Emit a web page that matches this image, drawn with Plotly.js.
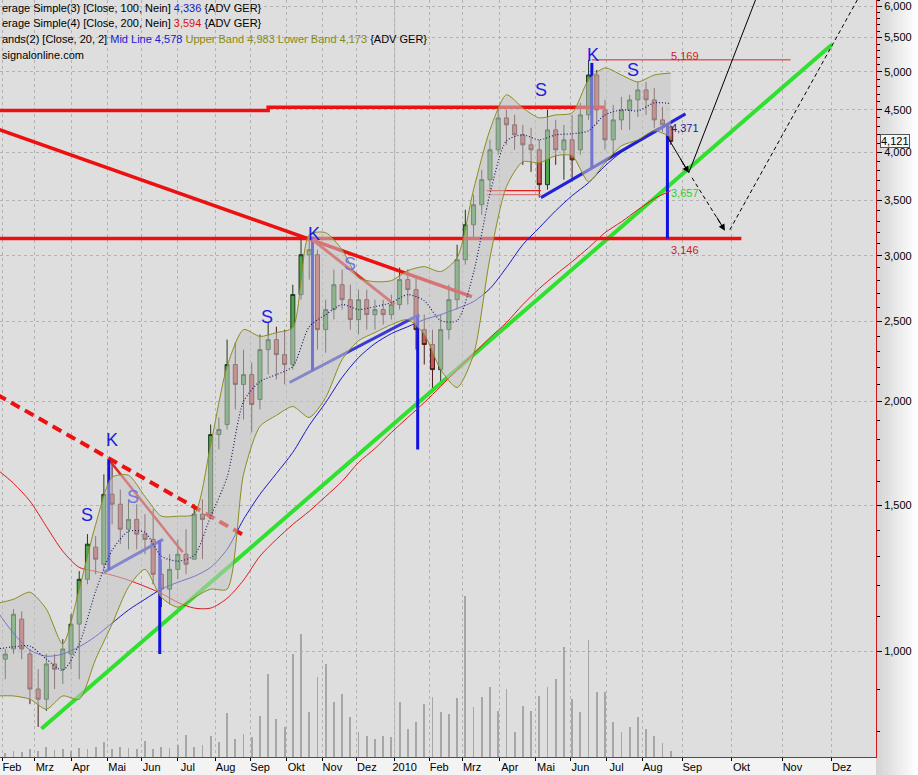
<!DOCTYPE html>
<html><head><meta charset="utf-8">
<script src="https://cdn.plot.ly/plotly-3.0.1.min.js"></script>
<style>html,body{margin:0;padding:0;background:#fff;} #chart{width:918px;height:775px;}</style>
</head><body><div id="chart"></div>
<script>
// ---------- DATA ----------
const weekDates = ['2009-01-28','2009-02-04','2009-02-11','2009-02-18','2009-02-25','2009-03-04','2009-03-11','2009-03-18','2009-03-25','2009-04-01','2009-04-08','2009-04-15','2009-04-22','2009-04-29','2009-05-06','2009-05-13','2009-05-20','2009-05-27','2009-06-03','2009-06-10','2009-06-17','2009-06-24','2009-07-01','2009-07-08','2009-07-15','2009-07-22','2009-07-29','2009-08-05','2009-08-12','2009-08-19','2009-08-26','2009-09-02','2009-09-09','2009-09-16','2009-09-23','2009-09-30','2009-10-07','2009-10-14','2009-10-21','2009-10-28','2009-11-04','2009-11-11','2009-11-18','2009-11-25','2009-12-02','2009-12-09','2009-12-16','2009-12-23','2009-12-30','2010-01-06','2010-01-13','2010-01-20','2010-01-27','2010-02-03','2010-02-10','2010-02-17','2010-02-24','2010-03-03','2010-03-10','2010-03-17','2010-03-24','2010-03-31','2010-04-07','2010-04-14','2010-04-21','2010-04-28','2010-05-05','2010-05-12','2010-05-19','2010-05-26','2010-06-02','2010-06-09','2010-06-16','2010-06-23','2010-06-30','2010-07-07','2010-07-14','2010-07-21','2010-07-28','2010-08-04','2010-08-11','2010-08-18','2010-08-25'];
const openV  = [0.965,0.978,1.006,1.093,0.992,0.900,0.875,0.965,0.951,0.992,1.078,1.221,1.335,1.273,1.546,1.504,1.403,1.442,1.384,1.364,1.238,1.188,1.255,1.309,1.291,1.463,1.463,1.825,1.877,2.217,2.098,2.156,2.012,2.311,2.376,2.279,2.217,2.693,3.008,3.008,2.443,2.583,2.768,2.655,2.512,2.655,2.547,2.583,2.547,2.619,2.807,2.730,2.443,2.344,2.186,2.443,2.655,2.967,3.269,3.456,3.705,4.026,4.399,4.315,4.197,4.082,4.026,3.654,4.255,4.026,4.139,4.026,4.436,4.956,4.498,4.139,4.375,4.498,4.625,4.755,4.625,4.375,4.291];
const highV  = [0.992,1.006,1.124,1.117,1.006,0.951,0.992,0.992,1.034,1.108,1.249,1.384,1.377,1.634,1.703,1.567,1.525,1.504,1.463,1.483,1.291,1.309,1.364,1.403,1.504,1.525,1.877,1.914,2.376,2.356,2.311,2.229,2.410,2.491,2.463,2.443,2.768,3.136,3.162,3.050,2.655,2.886,2.886,2.768,2.730,2.730,2.655,2.655,2.693,2.902,2.886,2.822,2.547,2.443,2.547,2.768,3.093,3.408,3.554,3.808,4.139,4.523,4.498,4.436,4.315,4.279,4.139,4.498,4.375,4.315,4.436,4.587,5.169,5.025,4.625,4.561,4.664,4.690,4.862,4.862,4.782,4.536,4.315];
const lowV   = [0.925,0.925,0.992,0.978,0.863,0.810,0.847,0.900,0.913,0.951,0.925,1.204,1.238,1.255,1.422,1.346,1.327,1.327,1.309,1.204,1.130,1.139,1.221,1.238,1.291,1.291,1.442,1.751,1.851,1.957,1.903,1.836,1.957,2.156,2.127,2.098,2.186,2.655,2.807,2.311,2.291,2.512,2.583,2.443,2.410,2.443,2.443,2.477,2.512,2.583,2.619,2.311,2.217,2.052,2.098,2.376,2.583,2.926,3.136,3.361,3.604,3.971,4.082,4.026,3.861,3.787,3.525,3.604,3.861,3.705,3.685,3.971,4.375,4.315,4.026,3.949,4.255,4.255,4.411,4.436,4.279,4.232,4.082];
const closeV = [0.978,0.992,1.108,1.006,0.900,0.875,0.965,0.951,1.006,1.078,1.221,1.346,1.291,1.546,1.504,1.403,1.442,1.384,1.364,1.238,1.188,1.255,1.309,1.273,1.463,1.442,1.825,1.851,2.217,2.098,2.156,1.984,2.311,2.376,2.279,2.217,2.693,3.008,3.050,2.443,2.583,2.768,2.655,2.512,2.655,2.547,2.583,2.547,2.619,2.807,2.730,2.443,2.344,2.186,2.443,2.655,2.967,3.269,3.456,3.705,4.026,4.399,4.315,4.197,4.082,4.026,3.654,4.255,4.026,4.139,3.915,4.436,4.956,4.498,4.139,4.375,4.498,4.625,4.755,4.625,4.375,4.315,4.121];
const volume = [5,4,6,5,8,6,10,7,8,6,9,8,10,15,8,10,9,8,16,8,10,9,12,22,10,12,21,15,44,18,23,20,41,83,38,30,103,123,45,80,93,55,63,40,25,21,18,21,20,55,28,35,53,60,45,43,59,161,50,60,70,46,68,25,51,46,61,70,78,110,58,45,117,65,65,35,25,30,40,28,21,14,6];

const ovDates = ['2009-01-28','2009-02-11','2009-02-25','2009-03-11','2009-03-25','2009-04-08','2009-04-22','2009-05-06','2009-05-20','2009-06-03','2009-06-17','2009-07-01','2009-07-15','2009-07-29','2009-08-12','2009-08-26','2009-09-09','2009-09-23','2009-10-07','2009-10-21','2009-11-04','2009-11-18','2009-12-02','2009-12-16','2009-12-30','2010-01-13','2010-01-27','2010-02-10','2010-02-24','2010-03-10','2010-03-24','2010-04-07','2010-04-21','2010-05-05','2010-05-19','2010-06-02','2010-06-16','2010-06-30','2010-07-14','2010-07-28','2010-08-11','2010-08-25'];
const bbUpper = [1.142,1.155,1.178,1.124,1.020,1.188,1.422,1.621,1.630,1.537,1.455,1.455,1.463,1.775,2.205,2.443,2.397,2.423,2.457,3.180,3.198,3.050,2.822,2.791,2.799,2.878,2.910,2.870,2.983,3.604,4.255,4.690,4.523,4.399,4.436,4.461,4.889,5.054,4.956,4.862,4.956,4.983];
const bbLower = [0.883,0.883,0.875,0.851,0.883,0.875,0.978,1.078,1.195,1.255,1.161,1.130,1.161,1.188,1.188,1.634,1.867,1.925,1.973,1.914,2.023,2.248,2.369,2.423,2.477,2.512,2.410,2.186,2.080,2.279,2.983,3.634,3.894,3.883,3.960,3.960,3.685,3.883,4.071,4.139,4.244,4.173];
const bbMid   = [1.006,1.012,1.014,0.978,0.948,1.020,1.181,1.323,1.395,1.391,1.302,1.284,1.305,1.454,1.621,2.001,2.115,2.156,2.205,2.463,2.547,2.619,2.583,2.604,2.633,2.693,2.648,2.505,2.505,2.862,3.564,4.127,4.197,4.139,4.197,4.209,4.244,4.436,4.498,4.486,4.587,4.578];
const ma100   = [1.118,1.051,1.003,0.986,0.992,1.012,1.042,1.081,1.121,1.155,1.188,1.211,1.231,1.262,1.327,1.442,1.546,1.638,1.737,1.872,1.995,2.139,2.260,2.350,2.416,2.463,2.512,2.547,2.590,2.641,2.738,2.902,3.093,3.242,3.399,3.544,3.674,3.850,4.000,4.127,4.255,4.336];
const ma200   = [1.657,1.594,1.517,1.414,1.320,1.262,1.248,1.235,1.218,1.197,1.174,1.145,1.127,1.127,1.158,1.218,1.302,1.364,1.422,1.475,1.537,1.603,1.689,1.756,1.836,1.914,1.995,2.086,2.186,2.285,2.389,2.491,2.619,2.738,2.846,2.951,3.067,3.198,3.296,3.408,3.514,3.594];

const monthDates  = ['2009-02-01','2009-03-01','2009-04-01','2009-05-01','2009-06-01','2009-07-01','2009-08-01','2009-09-01','2009-10-01','2009-11-01','2009-12-01','2010-01-01','2010-02-01','2010-03-01','2010-04-01','2010-05-01','2010-06-01','2010-07-01','2010-08-01','2010-09-01','2010-10-01','2010-11-01','2010-12-01'];
const monthLabels = ['Feb','Mrz','Apr','Mai','Jun','Jul','Aug','Sep','Okt','Nov','Dez','2010','Feb','Mrz','Apr','Mai','Jun','Jul','Aug','Sep','Okt','Nov','Dez'];
const priceTicks  = [1,1.5,2,2.5,3,3.5,4,4.5,5,5.5,6];
const priceLabels = ['1,000','1,500','2,000','2,500','3,000','3,500','4,000','4,500','5,000','5,500','6,000'];

// drawn analysis lines (date, value)
const resistHigh = {d:['2009-01-28','2009-09-16','2009-09-16','2010-06-30'], v:[4.49,4.49,4.53,4.53]};
const downTrend  = {d:['2009-01-28','2010-03-09'], v:[4.267,2.678]};
const support    = {d:['2009-01-28','2010-10-07'], v:[3.146,3.146]};
const peakLine   = {d:['2010-06-18','2010-11-06'], v:[5.169,5.169]};
const dashed2009 = {d:['2009-01-28','2009-08-26'], v:[2.040,1.380]};
const ks2009     = {d:['2009-05-04','2009-07-06'], v:[1.703,1.316]};
const neck2009   = {d:['2009-04-29','2009-06-18'], v:[1.245,1.364]};
const kv2009     = {d:['2009-05-04','2009-05-04'], v:[1.703,1.252]};
const tv2009     = {d:['2009-06-16','2009-06-16'], v:[1.360,0.992]};
const neckB      = {d:['2009-10-05','2010-01-22'], v:[2.109,2.547]};
const kvB        = {d:['2009-10-23','2009-10-23'], v:[3.162,2.180]};
const tvB        = {d:['2010-01-21','2010-01-21'], v:[2.540,1.751]};
const ksB        = {d:['2009-10-23','2010-01-01'], v:[3.136,2.619]};
const neckC      = {d:['2010-05-06','2010-09-03'], v:[3.525,4.449]};
const kvC        = {d:['2010-06-18','2010-06-18'], v:[5.125,3.832]};
const tvC        = {d:['2010-08-23','2010-08-23'], v:[4.32,3.146]};
const gapTop     = {d:['2010-03-22','2010-05-06'], v:[3.594,3.594]};
const gapBottom  = {d:['2010-03-22','2010-05-06'], v:[3.554,3.554]};
const trendGreen = {d:['2009-03-06','2010-12-01'], v:[0.806,5.39]};
const arrow1     = {d:['2010-08-23','2010-09-05'], v:[4.173,3.777]};
const arrowTop   = {d:['2010-10-18','2010-09-05'], v:[6.28,3.777]};
const arrow2     = {d:['2010-09-07','2010-09-27'], v:[3.725,3.215]};
const arrow3     = {d:['2010-09-30','2010-12-20'], v:[3.224,6.28]};

const patternLabels = [
  {t:'K', d:'2009-05-06', v:1.800, c:'#1c1ce0'},
  {t:'S', d:'2009-04-15', v:1.459, c:'#1c1ce0'},
  {t:'S', d:'2009-05-25', v:1.533, c:'#7474dc'},
  {t:'S', d:'2009-09-15', v:2.533, c:'#1c1ce0'},
  {t:'K', d:'2009-10-26', v:3.189, c:'#1c1ce0'},
  {t:'S', d:'2009-11-25', v:2.934, c:'#7474dc'},
  {t:'S', d:'2010-05-06', v:4.755, c:'#1c1ce0'},
  {t:'K', d:'2010-06-21', v:5.236, c:'#1c1ce0'},
  {t:'S', d:'2010-07-23', v:5.025, c:'#1c1ce0'}
];
const valueLabels = [
  {t:'5,169', d:'2010-08-24', v:5.222, c:'#d01a1a'},
  {t:'4,371', d:'2010-08-24', v:4.279, c:'#1a1aa0'},
  {t:'3,657', d:'2010-08-24', v:3.574, c:'#2ecc2e'},
  {t:'3,146', d:'2010-08-24', v:3.050, c:'#d01a1a'}
];
const lastPrice = 4.121;

// ---------- AXIS MAPPING (trading days, then calendar days after last bar) ----------
const DAY = 864e5, BASE = Date.UTC(2009,1,2), CUT = Date.UTC(2010,7,27);
function wd(t){const d=Math.round((t-BASE)/DAY);const w=Math.floor(d/7);const r=d-7*w;return w*5+Math.min(r,5);}
function xIdx(s){const p=s.split('-').map(Number);const t=Date.UTC(p[0],p[1]-1,p[2]);return t<=CUT?wd(t):wd(CUT)+Math.round((t-CUT)/DAY);}
const X = a => a.map(xIdx);
const L = Math.log10;

function seg(o,color,width,dash){
  return {type:'scatter',mode:'lines',x:X(o.d),y:o.v,line:{color:color,width:width,dash:dash||'solid'},hoverinfo:'skip'};
}

const traces = [
  {type:'bar',x:X(weekDates),y:volume,yaxis:'y2',width:1.1,marker:{color:'#a6a6a6',line:{width:0}},hoverinfo:'skip'},
  {type:'candlestick',x:X(weekDates),open:openV,high:highV,low:lowV,close:closeV,whiskerwidth:0,
   increasing:{line:{color:'#1f3a1f',width:1},fillcolor:'#4ea64e'},
   decreasing:{line:{color:'#4a1c1c',width:1},fillcolor:'#c85656'},hoverinfo:'skip'},
  seg(trendGreen,'#2fe02f',4),
  seg(resistHigh,'#ee1010',3.5),
  seg(downTrend,'#ee1010',3.5),
  seg(support,'#ee1010',3.5),
  seg(peakLine,'#e02020',1),
  seg(dashed2009,'#ee1010',4,'10px,6px'),
  seg(ks2009,'#e02828',2.5),
  seg(neck2009,'#3a3ad0',3),
  seg(kv2009,'#1010e0',3),
  seg(tv2009,'#1010e0',3),
  seg(neckB,'#3a3ad0',3),
  seg(kvB,'#1010e0',3),
  seg(tvB,'#1010e0',3),
  seg(ksB,'#e03030',3),
  seg(neckC,'#2222d8',3),
  seg(kvC,'#1010e0',3),
  seg(tvC,'#1010e0',3),
  seg(gapTop,'#e02020',1.2),
  seg(gapBottom,'#e07070',1.2),
  seg(arrow1,'#000',1),
  seg(arrowTop,'#000',1),
  seg(arrow2,'#000',1,'4px,3px'),
  seg(arrow3,'#000',1,'4px,3px'),
  {type:'scatter',mode:'lines',x:X(ovDates),y:ma200,line:{color:'#e01818',width:1,shape:'spline',smoothing:0.8},hoverinfo:'skip'},
  {type:'scatter',mode:'lines',x:X(ovDates),y:ma100,line:{color:'#1818c8',width:1,shape:'spline',smoothing:0.8},hoverinfo:'skip'},
  {type:'scatter',mode:'lines',x:X(ovDates),y:bbLower,line:{color:'#8c8c1e',width:1,shape:'spline',smoothing:0.7},hoverinfo:'skip'},
  {type:'scatter',mode:'lines',x:X(ovDates),y:bbUpper,fill:'tonexty',fillcolor:'rgba(196,196,196,0.55)',line:{color:'#8c8c1e',width:1,shape:'spline',smoothing:0.7},hoverinfo:'skip'},
  {type:'scatter',mode:'lines',x:X(ovDates),y:bbMid,line:{color:'#1c1c70',width:1.2,dash:'1px,2px',shape:'spline',smoothing:0.7},hoverinfo:'skip'}
];

// minor ticks every 0.1
const minorVals = [];
for(let i=8;i<=61;i++){ if(i%5!==0) minorVals.push(i/10); }

const H = 757;
const shapes = [];
// gradient in right margin
for(let i=0;i<14;i++){
  const c = Math.round(212 + (255-212)*i/13);
  shapes.push({type:'rect',xref:'paper',yref:'paper',x0:1+i*3/876,x1:1+(i+1)*3/876+0.001,y0:-18/H,y1:1,fillcolor:`rgb(${c},${c},${c})`,line:{width:0},layer:'below'});
}
shapes.push({type:'line',xref:'paper',yref:'y',x0:0,x1:1,y0:L(2.5),y1:L(2.5),line:{color:'#bcbcbc',width:1},layer:'below'});
shapes.push({type:'line',xref:'paper',yref:'y',x0:0,x1:1,y0:L(5),y1:L(5),line:{color:'#bcbcbc',width:1},layer:'below'});
shapes.push({type:'line',xref:'x',yref:'paper',x0:xIdx('2010-01-01'),x1:xIdx('2010-01-01'),y0:0,y1:1,line:{color:'#bcbcbc',width:1},layer:'below'});

const annotations = [];
const legendLines = [
  'erage Simple(3) [Close, 100, Nein] <span style="color:#1a1ad0">4,336</span> {ADV GER}',
  'erage Simple(4) [Close, 200, Nein] <span style="color:#dd1111">3,594</span> {ADV GER}',
  'ands(2) [Close, 20, 2] <span style="color:#1a1ad0">Mid Line 4,578</span> <span style="color:#8a8a10">Upper Band 4,983 Lower Band 4,173</span> {ADV GER}',
  'signalonline.com'
];
const legendY = [8,23,39,55];
legendLines.forEach((t,i)=>annotations.push({xref:'paper',yref:'paper',x:0,y:1-legendY[i]/H,xanchor:'left',yanchor:'middle',text:t,showarrow:false,font:{size:11,color:'#000'},align:'left'}));
patternLabels.forEach(p=>annotations.push({x:xIdx(p.d),y:L(p.v),text:p.t,showarrow:false,font:{size:18,color:p.c,family:'Liberation Sans, Arial, sans-serif'},xanchor:'center',yanchor:'middle'}));
valueLabels.forEach(p=>annotations.push({x:xIdx(p.d),y:L(p.v),text:p.t,showarrow:false,font:{size:11,color:p.c},xanchor:'left',yanchor:'middle'}));
// arrow heads
annotations.push({x:xIdx(arrow1.d[1]),y:L(arrow1.v[1]),ax:-9,ay:-15,text:'',showarrow:true,arrowhead:2,arrowsize:1.3,arrowwidth:1,arrowcolor:'#000'});
annotations.push({x:xIdx(arrow2.d[1]),y:L(arrow2.v[1]),ax:-9,ay:-15,text:'',showarrow:true,arrowhead:2,arrowsize:1.3,arrowwidth:1,arrowcolor:'#000'});
// last price tag
annotations.push({xref:'paper',x:1+4/876,y:L(lastPrice),xanchor:'left',yanchor:'middle',text:'4,121',showarrow:false,bgcolor:'#f6f6f6',bordercolor:'#555',borderwidth:1,borderpad:0,font:{size:11,color:'#000'}});

const layout = {
  width:918,height:775,margin:{l:0,r:42,t:0,b:18,pad:0},
  paper_bgcolor:'#f3f3f3',plot_bgcolor:'#dedede',showlegend:false,
  font:{family:'Liberation Sans, Arial, sans-serif',size:11,color:'#000'},
  xaxis:{type:'linear',range:[-1.217,531.95],rangeslider:{visible:false},tickmode:'array',tickvals:X(monthDates),ticktext:monthLabels,
    ticks:'outside',ticklen:3,tickcolor:'#000',showgrid:true,gridcolor:'#b2b2b2',griddash:'dot',gridwidth:1,
    showline:true,linecolor:'#d01818',linewidth:1,zeroline:false,ticklabelshift:10,ticklabelstandoff:-3,tickfont:{size:11},fixedrange:true,automargin:false},
  yaxis:{type:'log',side:'right',range:[L(0.7452),L(6.104)],tickmode:'array',tickvals:priceTicks,ticktext:priceLabels,
    ticks:'outside',ticklen:5,tickcolor:'#000',minor:{tickmode:'array',tickvals:minorVals,ticks:'outside',ticklen:3,tickcolor:'#000',showgrid:false},
    showgrid:true,gridcolor:'#b2b2b2',griddash:'dot',gridwidth:1,showline:true,linecolor:'#d01818',linewidth:1,zeroline:false,tickfont:{size:11},fixedrange:true,automargin:false},
  yaxis2:{overlaying:'y',range:[0,757],visible:false,fixedrange:true},
  shapes:shapes,annotations:annotations,bargap:0
};
Plotly.newPlot('chart',traces,layout,{staticPlot:true,displayModeBar:false});
</script></body></html>
